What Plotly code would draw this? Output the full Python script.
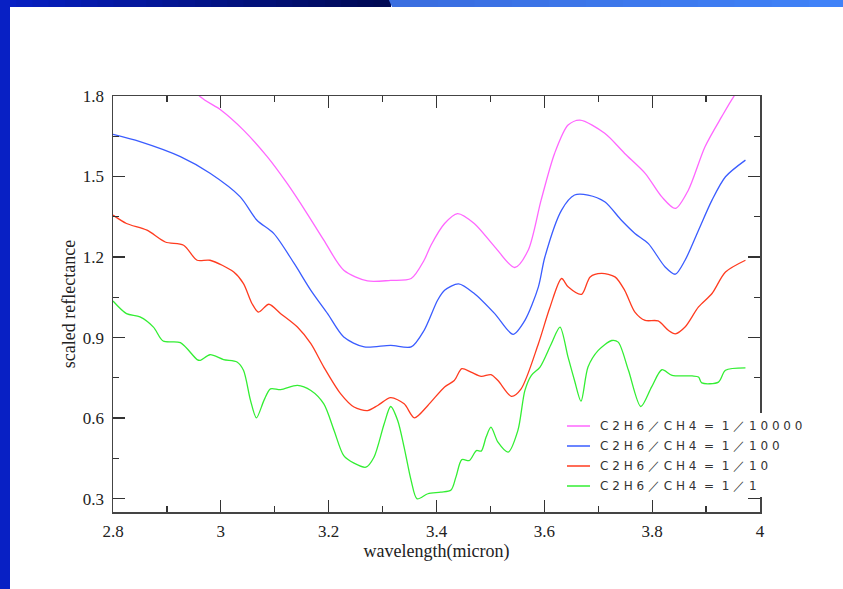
import plotly.graph_objects as go

# ---- data ----
x_pink = [2.90, 2.962, 3.0, 3.042, 3.086, 3.123, 3.160, 3.191, 3.228, 3.272, 3.315, 3.353, 3.377, 3.39, 3.415, 3.439, 3.47, 3.508, 3.545, 3.57, 3.594, 3.619, 3.644, 3.666, 3.712, 3.749, 3.787, 3.818, 3.843, 3.867, 3.898, 3.929, 3.951, 3.975]
y_pink = [1.95, 1.797, 1.748, 1.673, 1.574, 1.474, 1.362, 1.263, 1.151, 1.111, 1.113, 1.120, 1.188, 1.245, 1.325, 1.362, 1.325, 1.238, 1.161, 1.225, 1.412, 1.586, 1.692, 1.710, 1.661, 1.586, 1.512, 1.424, 1.381, 1.449, 1.611, 1.723, 1.797, 1.86]

x_blue = [2.8, 2.85, 2.925, 2.98, 3.036, 3.067, 3.098, 3.136, 3.167, 3.198, 3.228, 3.266, 3.315, 3.353, 3.377, 3.402, 3.415, 3.441, 3.47, 3.508, 3.542, 3.564, 3.589, 3.601, 3.632, 3.656, 3.681, 3.712, 3.743, 3.768, 3.793, 3.824, 3.843, 3.861, 3.886, 3.911, 3.936, 3.973]
y_blue = [1.657, 1.630, 1.574, 1.512, 1.424, 1.337, 1.288, 1.176, 1.076, 0.989, 0.902, 0.865, 0.871, 0.865, 0.927, 1.039, 1.076, 1.100, 1.064, 0.989, 0.912, 0.964, 1.089, 1.200, 1.375, 1.431, 1.431, 1.406, 1.337, 1.288, 1.250, 1.163, 1.136, 1.188, 1.300, 1.412, 1.499, 1.561]

x_red = [2.8, 2.825, 2.863, 2.897, 2.931, 2.956, 2.98, 3.024, 3.042, 3.058, 3.070, 3.089, 3.111, 3.142, 3.167, 3.191, 3.222, 3.247, 3.272, 3.291, 3.315, 3.340, 3.359, 3.384, 3.415, 3.433, 3.447, 3.464, 3.483, 3.501, 3.514, 3.539, 3.557, 3.589, 3.610, 3.632, 3.644, 3.669, 3.685, 3.706, 3.731, 3.749, 3.768, 3.787, 3.811, 3.830, 3.843, 3.861, 3.886, 3.911, 3.936, 3.973]
y_red = [1.356, 1.325, 1.300, 1.256, 1.244, 1.188, 1.188, 1.144, 1.101, 1.026, 0.995, 1.024, 0.989, 0.939, 0.877, 0.790, 0.691, 0.641, 0.628, 0.647, 0.676, 0.653, 0.601, 0.647, 0.716, 0.740, 0.784, 0.771, 0.755, 0.762, 0.740, 0.681, 0.709, 0.877, 1.010, 1.120, 1.089, 1.061, 1.126, 1.139, 1.126, 1.076, 0.995, 0.964, 0.962, 0.927, 0.914, 0.939, 1.014, 1.064, 1.144, 1.188]

x_green = [2.8, 2.825, 2.85, 2.875, 2.893, 2.925, 2.956, 2.962, 2.98, 3.005, 3.03, 3.042, 3.055, 3.066, 3.08, 3.092, 3.111, 3.142, 3.167, 3.191, 3.21, 3.228, 3.247, 3.269, 3.284, 3.303, 3.315, 3.328, 3.34, 3.353, 3.364, 3.384, 3.408, 3.427, 3.436, 3.447, 3.461, 3.474, 3.483, 3.492, 3.501, 3.514, 3.533, 3.551, 3.564, 3.576, 3.592, 3.613, 3.629, 3.644, 3.656, 3.668, 3.681, 3.70, 3.725, 3.737, 3.756, 3.779, 3.799, 3.818, 3.837, 3.874, 3.886, 3.892, 3.923, 3.936, 3.973]
y_green = [1.036, 0.989, 0.977, 0.939, 0.887, 0.881, 0.818, 0.815, 0.836, 0.818, 0.809, 0.778, 0.666, 0.601, 0.666, 0.709, 0.706, 0.722, 0.703, 0.653, 0.554, 0.460, 0.432, 0.417, 0.454, 0.579, 0.643, 0.591, 0.491, 0.367, 0.299, 0.318, 0.324, 0.332, 0.380, 0.445, 0.442, 0.479, 0.477, 0.529, 0.566, 0.510, 0.473, 0.554, 0.703, 0.759, 0.790, 0.877, 0.939, 0.827, 0.740, 0.663, 0.790, 0.852, 0.889, 0.883, 0.778, 0.643, 0.716, 0.780, 0.759, 0.757, 0.753, 0.731, 0.734, 0.778, 0.787]

series_names = ["C 2 H 6 ／ C H 4  =  1 ／ 1 0 0 0 0",
                "C 2 H 6 ／ C H 4  =  1 ／ 1 0 0",
                "C 2 H 6 ／ C H 4  =  1 ／ 1 0",
                "C 2 H 6 ／ C H 4  =  1 ／ 1"]
series_colors = ["#ff66ff", "#3a5cff", "#ff3b1f", "#33ee33"]
xs = [x_pink, x_blue, x_red, x_green]
ys = [y_pink, y_blue, y_red, y_green]

W, H = 843, 589
L, R, T, B = 113, 760, 96, 512

fig = go.Figure()
for xv, yv, nm, col in zip(xs, ys, series_names, series_colors):
    fig.add_trace(go.Scatter(x=xv, y=yv, mode="lines", name=nm, hoverinfo="skip",
                             line=dict(color=col, width=1.3, shape="spline", smoothing=0.8)))

def px2paper_x(px):
    return (px - L) / (R - L)

def py2paper_y(py):
    return (B - py) / (B - T)

shapes = []
annotations = []
# left slide bar
shapes.append(dict(type="rect", xref="paper", yref="paper", x0=px2paper_x(-2), x1=px2paper_x(10),
                   y0=py2paper_y(592), y1=py2paper_y(-2), fillcolor="#0820c4", line=dict(width=0), layer="below"))
# top bar gradient (dark part)
n = 24
c0 = (8, 32, 196)
c1 = (0, 10, 84)
for i in range(n):
    a = i / (n - 1)
    c = tuple(int(c0[k] + (c1[k] - c0[k]) * a) for k in range(3))
    xa = 390 * i / n
    xb = 390 * (i + 1) / n + 1
    shapes.append(dict(type="rect", xref="paper", yref="paper", x0=px2paper_x(xa), x1=px2paper_x(xb),
                       y0=py2paper_y(7), y1=py2paper_y(-2), fillcolor="rgb(%d,%d,%d)" % c,
                       line=dict(width=0), layer="below"))
# light part (slanted left edge)
shapes.append(dict(type="path", xref="paper", yref="paper",
                   path="M %f,%f L %f,%f L %f,%f L %f,%f Z" % (
                       px2paper_x(388), py2paper_y(-2), px2paper_x(846), py2paper_y(-2),
                       px2paper_x(846), py2paper_y(7), px2paper_x(392), py2paper_y(7)),
                   fillcolor="rgb(58,110,224)", line=dict(width=0), layer="below"))
c2 = (58, 110, 224)
c3 = (64, 130, 248)
m = 12
for i in range(m):
    a = i / (m - 1)
    c = tuple(int(c2[k] + (c3[k] - c2[k]) * a) for k in range(3))
    xa = 400 + (846 - 400) * i / m
    xb = 400 + (846 - 400) * (i + 1) / m + 1
    shapes.append(dict(type="rect", xref="paper", yref="paper", x0=px2paper_x(xa), x1=px2paper_x(xb),
                       y0=py2paper_y(7), y1=py2paper_y(-2), fillcolor="rgb(%d,%d,%d)" % c,
                       line=dict(width=0), layer="below"))

# legend: opaque white box (hides the right frame behind it), key lines + labels
shapes.append(dict(type="rect", xref="paper", yref="paper", x0=px2paper_x(560), x1=px2paper_x(815),
                   y0=py2paper_y(497), y1=py2paper_y(413), fillcolor="white", line=dict(width=0),
                   layer="above"))
legend_top, legend_step = 426, 20
for i, (nm, col) in enumerate(zip(series_names, series_colors)):
    yy = py2paper_y(legend_top + i * legend_step)
    shapes.append(dict(type="line", xref="paper", yref="paper", x0=px2paper_x(567), x1=px2paper_x(590),
                       y0=yy, y1=yy, line=dict(color=col, width=1.5), layer="above"))
    annotations.append(dict(xref="paper", yref="paper", x=px2paper_x(598), y=yy, xanchor="left",
                            yanchor="middle", text=nm, showarrow=False,
                            font=dict(family="DejaVu Sans", size=12, color="#333")))

tickfont = dict(family="Liberation Serif", size=17, color="#222")
axis_common = dict(showgrid=False, zeroline=False, showline=True, linecolor="#444", linewidth=1.5,
                   mirror="ticks", ticks="inside", ticklen=12, tickwidth=1.2, tickcolor="#333",
                   tickfont=tickfont)

fig.update_layout(
    width=W, height=H,
    margin=dict(l=L, r=W - R, t=T, b=H - B, pad=0),
    paper_bgcolor="white", plot_bgcolor="white",
    shapes=shapes,
    annotations=annotations,
    hovermode=False,
    showlegend=False,
    xaxis=dict(range=[2.8, 4.0], tick0=2.8, dtick=0.2,
               minor=dict(dtick=0.1, ticklen=6, ticks="inside", tickcolor="#333", tickwidth=1.2),
               title=dict(text="wavelength(micron)", font=dict(family="Liberation Serif", size=18, color="#222"),
                          standoff=2),
               ticklabelstandoff=3,
               **axis_common),
    yaxis=dict(range=[0.25, 1.8], tick0=0.3, dtick=0.3,
               minor=dict(dtick=0.15, ticklen=6, ticks="inside", tickcolor="#333", tickwidth=1.2),
               title=dict(text="scaled reflectance", font=dict(family="Liberation Serif", size=18, color="#222"),
                          standoff=2),
               ticklabelstandoff=4,
               **axis_common),
)

fig.write_html(
    "out.html", config={"displayModeBar": False, "staticPlot": True},
    post_script=("document.body.style.margin='0';document.body.style.overflow='hidden';"))
